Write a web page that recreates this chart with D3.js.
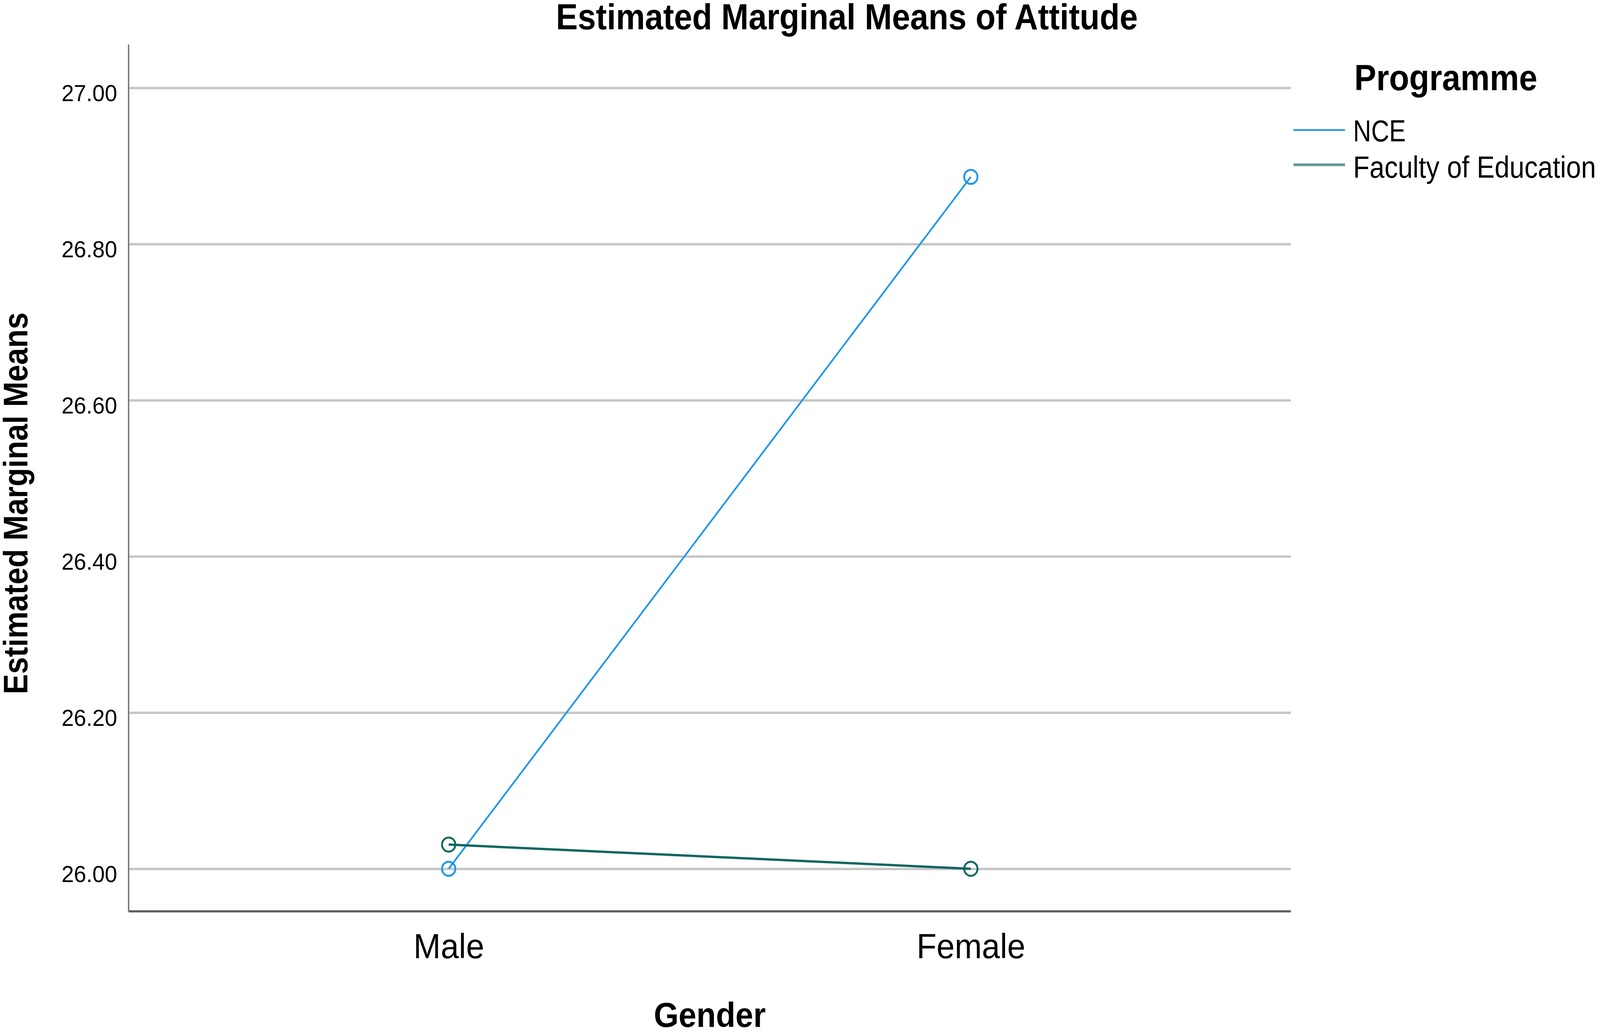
<!DOCTYPE html>
<html>
<head>
<meta charset="utf-8">
<script src="https://cdn.jsdelivr.net/npm/d3@7"></script>
<style>
  html, body { margin: 0; padding: 0; background: #ffffff; overflow: hidden; width: 100%; height: 100%; }
  #chart { width: 100vw; height: 100vh; }
  svg { display: block; width: 100vw; height: 100vh; }
  text { font-family: "Liberation Sans", Arial, sans-serif; fill: #000; }
</style>
</head>
<body>
<div id="chart"></div>
<script>
// ---- data ----
const genders = ["Male", "Female"];
const programmes = ["NCE", "Faculty of Education"];
const nceMeans = [26.00, 26.886];
const facultyMeans = [26.031, 26.00];
const yTicks = [26.00, 26.20, 26.40, 26.60, 26.80, 27.00];
const seriesColors = ["#1f97e8", "#0f6660"];

const W = 4317, H = 2643;
const plot = { left: 347, right: 3483, top: 114, bottom: 2334 };

const svg = d3.select("#chart").append("svg")
  .attr("viewBox", `0 0 ${W} ${H}`)
  .attr("preserveAspectRatio", "none");

svg.append("rect").attr("width", W).attr("height", H).attr("fill", "#fff");

const x = d3.scalePoint().domain(genders)
  .range([plot.left, plot.right]).padding(0.613);
const y = d3.scaleLinear().domain([25.9455, 27.0555])
  .range([plot.bottom, plot.top]);

// gridlines
const grid = svg.append("g").attr("transform", `translate(${plot.left},0)`)
  .call(d3.axisLeft(y).tickValues(yTicks).tickSize(-(plot.right - plot.left)).tickFormat(""));
grid.select(".domain").remove();
grid.selectAll(".tick line").attr("stroke", "#c6c6c6").attr("stroke-width", 6);

// y axis labels
const yAxis = svg.append("g").attr("transform", `translate(${plot.left},0)`)
  .call(d3.axisLeft(y).tickValues(yTicks).tickSize(0).tickPadding(31).tickFormat(d3.format(".2f")));
yAxis.select(".domain").remove();
yAxis.selectAll("text")
  .attr("font-family", "Liberation Sans, Arial, sans-serif")
  .attr("font-size", 60).attr("fill", "#000").attr("dy", "0.55em");

// y axis line
svg.append("line")
  .attr("x1", plot.left).attr("x2", plot.left)
  .attr("y1", plot.top).attr("y2", plot.bottom)
  .attr("stroke", "#6e6e6e").attr("stroke-width", 3.5);

// x axis
const xAxis = svg.append("g").attr("transform", `translate(0,${plot.bottom})`)
  .call(d3.axisBottom(x).tickSize(0));
xAxis.select(".domain").remove();
xAxis.selectAll("text")
  .attr("font-family", "Liberation Sans, Arial, sans-serif")
  .attr("font-size", 88).attr("fill", "#000")
  .attr("y", 120).attr("dy", 0);

svg.append("line")
  .attr("x1", plot.left).attr("x2", plot.right)
  .attr("y1", plot.bottom).attr("y2", plot.bottom)
  .attr("stroke", "#5e5e5e").attr("stroke-width", 5.5);

// series
const series = [
  { name: programmes[0], values: nceMeans, color: seriesColors[0], width: 4.5 },
  { name: programmes[1], values: facultyMeans, color: seriesColors[1], width: 6 }
];

const line = d3.line().x((d, i) => x(genders[i])).y(d => y(d));

series.forEach(s => {
  svg.append("path")
    .attr("d", line(s.values))
    .attr("fill", "none")
    .attr("stroke", s.color)
    .attr("stroke-width", s.width);
  svg.selectAll(null).data(s.values).enter().append("circle")
    .attr("cx", (d, i) => x(genders[i]))
    .attr("cy", d => y(d))
    .attr("r", 18)
    .attr("fill", "none")
    .attr("stroke", s.color)
    .attr("stroke-width", 5);
});

// title
svg.append("text")
  .attr("x", 2285).attr("y", 75)
  .attr("text-anchor", "middle")
  .attr("font-size", 92).attr("font-weight", "bold")
  .attr("textLength", 1570).attr("lengthAdjust", "spacingAndGlyphs")
  .text("Estimated Marginal Means of Attitude");

// x axis title
svg.append("text")
  .attr("x", (plot.left + plot.right) / 2).attr("y", 2630)
  .attr("text-anchor", "middle")
  .attr("font-size", 88).attr("font-weight", "bold")
  .attr("textLength", 302).attr("lengthAdjust", "spacingAndGlyphs")
  .text("Gender");

// y axis title
svg.append("text")
  .attr("transform", `translate(74,${1289}) rotate(-90)`)
  .attr("text-anchor", "middle")
  .attr("font-size", 92).attr("font-weight", "bold")
  .attr("textLength", 978).attr("lengthAdjust", "spacingAndGlyphs")
  .text("Estimated Marginal Means");

// legend
const legend = svg.append("g");
legend.append("text")
  .attr("x", 3654).attr("y", 231)
  .attr("font-size", 92).attr("font-weight", "bold")
  .attr("textLength", 494).attr("lengthAdjust", "spacingAndGlyphs")
  .text("Programme");

const legendRows = [
  { lineY: 333, textY: 362, len: 142 },
  { lineY: 422, textY: 455, len: 655 }
];
series.forEach((s, i) => {
  legend.append("line")
    .attr("x1", 3490).attr("x2", 3629)
    .attr("y1", legendRows[i].lineY).attr("y2", legendRows[i].lineY)
    .attr("stroke", s.color).attr("stroke-width", i === 0 ? 4.5 : 7)
    .attr("stroke-opacity", i === 0 ? 1 : 0.65);
  legend.append("text")
    .attr("x", 3651).attr("y", legendRows[i].textY)
    .attr("font-size", 78)
    .attr("textLength", legendRows[i].len).attr("lengthAdjust", "spacingAndGlyphs")
    .text(s.name);
});
</script>
</body>
</html>
